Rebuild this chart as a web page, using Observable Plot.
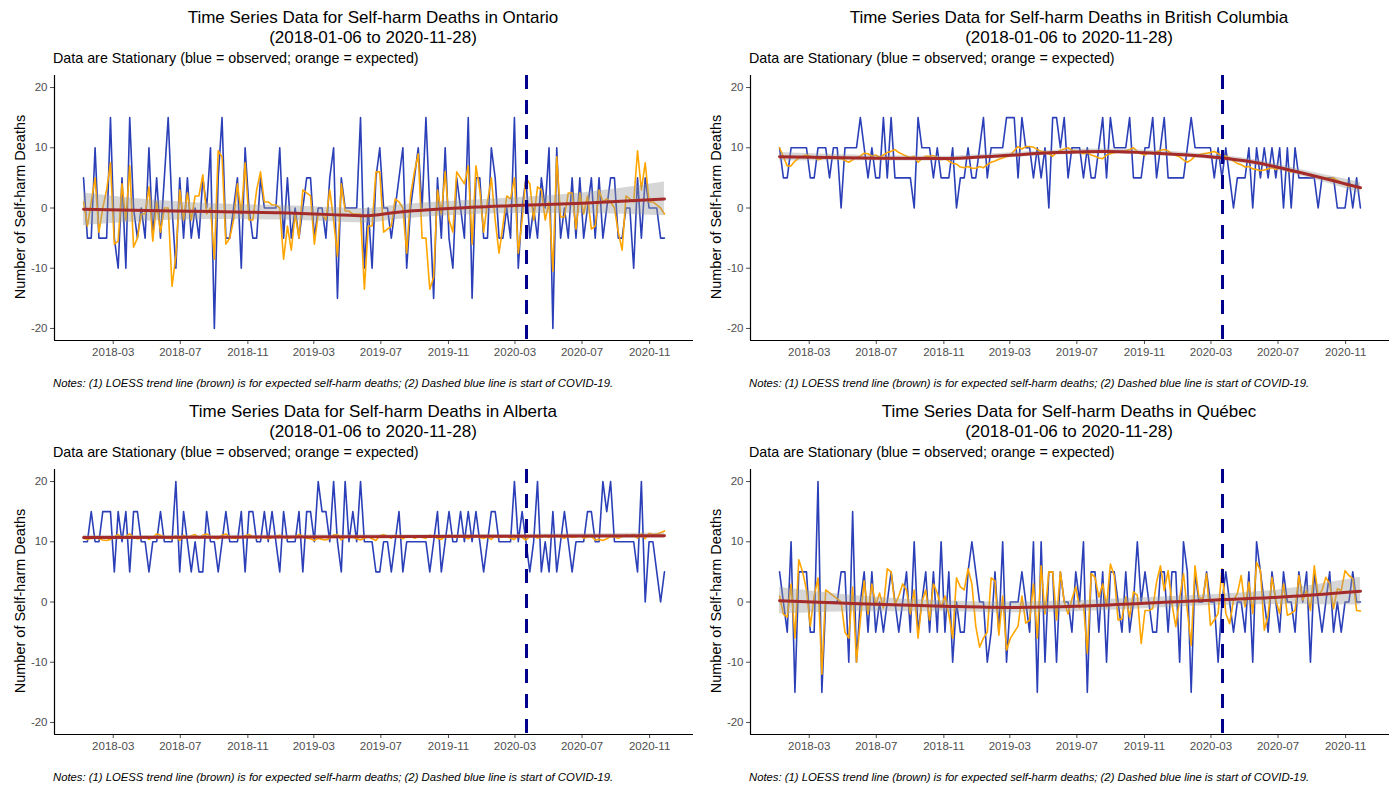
<!DOCTYPE html>
<html><head><meta charset="utf-8">
<script src="https://cdn.jsdelivr.net/npm/d3@7"></script>
<script src="https://cdn.jsdelivr.net/npm/@observablehq/plot@0.6"></script>
<style>
body{margin:0;background:#fff;font-family:"Liberation Sans",Arial,sans-serif;color:#000;}
#root{position:relative;width:1397px;height:786px;overflow:hidden;background:#fff;}
.panel{position:absolute;width:698px;height:393px;}
.title{position:absolute;top:8px;width:560px;text-align:center;font-size:17px;line-height:20px;}
.subtitle{position:absolute;left:53px;top:50px;font-size:14.3px;line-height:17px;white-space:nowrap;}
.ylab{position:absolute;left:20px;top:207px;transform:translate(-50%,-50%) rotate(-90deg);font-size:14.5px;white-space:nowrap;}
.note{position:absolute;left:53px;top:377px;font-size:11.3px;font-style:italic;white-space:nowrap;}
.chart{position:absolute;left:0;top:65px;}
</style></head>
<body><div id="root"></div>
<script>
const startDate = "2018-01-06";
const endDate = "2020-11-28";
const covidStart = "2020-03-22";
const xTickLabels = ["2018-03","2018-07","2018-11","2019-03","2019-07","2019-11","2020-03","2020-07","2020-11"];
const yTickValues = [-20,-10,0,10,20];
const subtitleText = "Data are Stationary (blue = observed; orange = expected)";
const noteText = "Notes: (1) LOESS trend line (brown) is for expected self-harm deaths; (2) Dashed blue line is start of COVID-19.";
const yLabel = "Number of Self-harm Deaths";

const ontarioObserved = [5,-5,-5,10,-5,-5,-5,15,-5,-10, 5,-10,15,0,-5,0,-5,10,-5,5, -5,5,15,0,-10,5,-5,5,-5,0, -5,5,0,10,-20,5,15,-5,-5,0, 5,-10,10,0,-5,-5,5,0,0,0, 0,10,-5,5,-5,0,-5,0,5,5, -5,0,0,-5,5,10,-15,5,0,0, 0,0,15,-10,
 0,-10,5,10,0,0,-5,0,5,10, -10,0,5,10,0,15,0,-15,5,-5, 10,-5,-10,5,0,-5,15,-15,5,5, -5,-5,10,5,-5,-5,0,-5,15,-10, 0,5,-5,0,-5,5,0,10,-20,10, -5,0,-5,5,-5,5,-5,0,5,-5, 5,-5,0,5,5,-5,-5,0,0,-10, 5,-5,5,0,0,0,-5,-5];
const ontarioExpected = [1,-3,1,5,-4,0,3,7.5,-6,-5.5, 4,-2,7,-6.5,-5,-1,-1,3.5,-5.5,1, -4,0,0,-13,-8,3,-2,2.5,-2,2, 2,5.5,-1,0,-8.5,9.5,8.5,-6,-5,-2, 4,-1,7.5,-2,-2,3,6,1,1,0.5, 0.5,0,-8.5,-3,-7,-1,-5,3,2.5,2, -6,-1,-1,-2,3,-2,-8,4,-0.5,-0.5, -1,-1,-1,-13.5,
 -3,-3,6,6,-4,-3.5,-3,1.5,1,0, -7.5,2,6,9,-5,-5,-13.5,-11.5,3,-1, 6,-2,-4,6,5,4,7,-6,7,3, -4,1,5,-2,-7.5,-3,2,1.5,5,-7.5, -2,5,4,-2,3.5,3,-2,1,-10.5,8.5, -1.5,-1.5,2.5,2.5,-3.5,2.5,-1,2,-3.5,-3, 3,1,1.5,1,0,-4,-7,2,1.5,1, 9.5,3,7.5,1,1,0.5,0,-1];
const ontarioTrendDates = ["2018-01-06","2018-05-01","2018-09-01","2019-01-01","2019-04-01","2019-06-01","2019-08-01","2019-11-01","2020-03-01","2020-07-01","2020-11-28"];
const ontarioTrend = [-0.2,-0.4,-0.6,-0.8,-1.1,-1.3,-0.7,-0.1,0.4,0.8,1.5];
const ontarioBand = [2.7,1.8,1.3,1.2,1.2,1.2,1.2,1.2,1.3,1.7,2.8];

const bcObserved = [10,5,5,10,10,10,10,10,5,5, 10,10,10,5,10,10,0,10,10,10, 10,15,10,5,10,5,5,15,5,15, 5,5,5,5,5,0,15,10,10,10, 5,10,5,5,5,10,0,5,5,10, 5,5,10,15,5,10,10,10,10,15, 15,15,5,15,10,10,5,10,5,10, 0,15,15,10,15,5,
 10,10,10,5,10,5,5,10,15,5, 15,10,10,10,10,15,5,5,5,10, 10,15,5,10,15,5,5,5,5,5, 10,15,10,10,10,10,10,5,10,5, 10,5,0,5,5,5,10,0,10,5, 10,5,10,5,10,0,10,0,10,5, 5,5,5,5,0,5,5,5,5,0, 0,0,5,0,5,0];
const bcExpected = [10,8.5,7,7,7.8,8.3,8.6,8.8,8.6,8.5, 8.0,8.2,8.5,8.6,8.4,8.2,8.2,7.9,7.6,8.0, 8.4,8.6,9.1,9.0,8.6,8.8,8.4,8.8,9.2,9.4, 9.7,9.2,8.9,8.6,8.4,8.6,7.6,8.2,8.6,8.6, 8.7,8.4,8.0,8.2,7.8,7.4,7.3,6.8,6.7,6.9, 6.6,6.6,6.9,6.7,7.2,7.6,7.8,8.1,8.3,8.5, 8.8,9.5,10.2,9.8,10.2,10.2,10.1,9.7,9.4,9.3, 9.0,8.6,9.2,9.6,9.8,10.0,
 9.6,9.4,9.2,9.0,9.2,8.8,8.6,8.3,8.2,8.8, 9.0,9.2,9.3,9.4,9.5,9.7,10.0,9.4,9.0,8.8, 9.2,9.0,9.3,9.6,9.7,9.5,9.0,8.7,8.5,8.0, 7.6,8.0,8.6,8.8,9.0,9.1,9.2,9.4,9.0,8.7, 8.6,8.3,7.8,7.4,7.2,6.8,6.9,6.5,6.4,6.2, 6.3,6.5,6.7,6.4,6.6,6.6,6.2,6.0,6.1,5.8, 5.9,5.7,5.6,5.4,5.2,5.1,5.0,4.9,5.0,4.6, 4.3,3.9,3.6,3.7,3.4,3.3];
const bcTrendDates = ["2018-01-06","2018-06-01","2018-11-01","2019-02-01","2019-05-25","2019-08-24","2019-11-23","2020-02-01","2020-05-23","2020-07-18","2020-09-19","2020-11-28"];
const bcTrend = [8.5,8.3,8.2,8.6,9.2,9.4,9.1,8.7,7.5,6.4,5.0,3.35];
const bcBand = [0.7,0.45,0.4,0.4,0.4,0.4,0.4,0.4,0.45,0.5,0.6,0.9];

const albertaObserved = [10,10,15,10,10,15,15,15,5,15, 10,15,5,15,15,10,10,5,10,10, 15,10,10,10,20,5,15,10,5,10, 5,5,15,10,10,5,10,15,10,10, 10,15,5,15,15,10,10,15,10,15, 10,5,15,10,10,10,15,5,15,15, 10,20,15,15,10,20,10,5,20,10, 15,10,20,10,10,
 10,5,5,10,10,5,10,15,5,10, 10,10,10,10,10,5,10,15,5,10, 15,10,10,15,10,15,10,15,10,5, 10,15,15,10,10,10,10,20,10,15, 10,5,10,20,5,10,5,15,5,10, 15,10,5,10,10,10,15,15,10,10, 20,15,20,10,10,10,10,10,10,5, 20,0,10,10,5,0,5];
const albertaExpected = [10.6,10.4,10.6,10.9,10.5,10.3,10.2,10.4,10.8,11.2, 10.6,10.9,11.3,10.7,10.5,10.6,10.9,10.4,10.7,11.3, 11.1,10.8,10.6,10.5,11.0,10.2,11.1,10.7,11.0,11.2, 10.6,11.1,11.3,10.9,10.6,10.5,11.1,11.3,10.8,10.6, 10.6,10.7,11.0,11.2,10.8,10.6,10.9,10.8,10.5,10.7, 10.9,11.1,10.8,10.6,10.7,10.8,11.2,10.9,10.6,10.5, 10.2,10.6,10.4,10.3,10.6,11.1,11.2,10.3,10.8,10.9, 10.8,10.5,10.3,10.6,10.9,10.5,10.2,11.0,11.2,10.9,
 10.6,11.1,10.8,10.5,10.9,11.0,10.6,10.8,10.7,10.6, 11.1,10.9,10.6,10.4,10.9,11.1,10.8,10.7,11.0,10.8, 10.5,10.9,11.0,10.7,10.6,10.8,10.4,11.0,10.7,10.8, 10.9,10.6,10.4,11.1,10.7,10.3,10.9,11.0,10.6,10.8, 11.1,10.7,10.9,11.0,10.8,10.6,10.9,10.7,10.8,11.0, 10.6,10.8,10.9,10.3,10.4,10.2,10.5,10.9,10.8,10.6, 10.9,11.1,11.0,11.2,10.6,11.3,10.5,11.4,11.2,11.3, 11.5,11.8];
const albertaTrendDates = ["2018-01-06","2018-09-01","2019-06-01","2020-01-01","2020-11-28"];
const albertaTrend = [10.7,10.75,10.85,10.9,11.0];
const albertaBand = [0.4,0.3,0.3,0.3,0.45];

const quebecObserved = [5,0,-5,10,-15,5,5,5,-5,-5, 20,-15,0,0,0,0,5,5,-10,15, -10,0,5,-5,5,-5,0,-5,0,5, 0,-5,0,5,-5,10,-5,0,5,-5, 5,-5,10,-5,5,-10,0,-5,-5,5, 10,5,0,0,-10,-5,5,-5,10,-10, 0,0,0,5,0,-5,10,-15,10,-10, 5,5,-10,5,0,0,
 -5,5,0,10,-15,5,5,-5,5,-10, 5,5,0,-5,5,-5,0,10,0,5, 0,-5,-5,5,5,-5,5,5,-10,10, 5,-15,5,0,0,5,0,0,-10,0, 5,0,-5,0,0,-5,5,-10,10,5, 0,-5,5,0,-5,5,0,0,-5,5, 0,5,-10,5,0,-5,0,5,-5,0, -5,0,0,5,0,0];
const quebecExpected = [1,-2,-2.5,3,-6,7,5,2,-4,1, 4,-12,2,1.5,1,0.5,0,-5,-6,2.5, -10,-3,3.5,-2,3,-0.5,1.5,-1,5.5,5, -0.5,1,3,2,-2,2,-6,0,2,-3, 3,1.5,-1,1,-2,-6,4,2.5,2,5.5, 3,-4,-7.5,-6,-5,4,3.5,-5.5,1,-8, -6,-5,-4,1,-3.5,-3,3,-6,6,-2, 5,5,-3,5,0,-2,
 0.5,2.5,-1,-0.3,-8.5,4.7,4.1,0.8,3,-0.8, 6.3,4.4,-3,-2.8,0.8,-2.5,1.7,1.1,-6.9,-1.4, -1.4,-1.1,3.3,6,1.9,5.2,-0.3,-4.1,0.6,4.7, -1.4,-7.2,6,0.8,0.5,4.7,-3.9,-3,-1.9,5.5, -1.9,-3.6,0.3,1.4,4.4,-0.8,3.3,-1.9,6.6,5.2, -4.7,-2.2,4.1,0.3,-1.9,3,-2.2,-1.9,-1.4,4.4, 0.3,1.9,-1.4,6,1.1,1.9,4.1,3,-1.1,2.2, 1.9,5.2,4.4,3.9,-1.4,-1.5];
const quebecTrendDates = ["2018-01-06","2018-06-01","2018-11-01","2019-03-01","2019-07-01","2019-11-01","2020-03-01","2020-07-01","2020-11-28"];
const quebecTrend = [0.2,-0.3,-0.7,-0.9,-0.7,-0.2,0.3,0.8,1.8];
const quebecBand = [2.2,1.3,0.9,0.9,0.9,0.9,0.9,1.2,2.3];

const panels = [
  {name:"Ontario", obs:ontarioObserved, exp:ontarioExpected, tDates:ontarioTrendDates, trend:ontarioTrend, band:ontarioBand, ox:0, oy:0},
  {name:"British Columbia", obs:bcObserved, exp:bcExpected, tDates:bcTrendDates, trend:bcTrend, band:bcBand, ox:696, oy:0},
  {name:"Alberta", obs:albertaObserved, exp:albertaExpected, tDates:albertaTrendDates, trend:albertaTrend, band:albertaBand, ox:0, oy:394},
  {name:"Québec", obs:quebecObserved, exp:quebecExpected, tDates:quebecTrendDates, trend:quebecTrend, band:quebecBand, ox:696, oy:394}
];

const COL_OBS = "#2b40b8", COL_EXP = "#ffa500", COL_TREND = "#a52a2a", COL_COVID = "#00008b";
const s0 = new Date(startDate), s1 = new Date(endDate);
const span = s1 - s0;
const xDomain = [new Date(+s0 - 0.05*span), new Date(+s1 + 0.05*span)];
const xTicks = xTickLabels.map(l => new Date(l + "-01"));
const root = document.getElementById("root");

for (const p of panels) {
  const div = document.createElement("div");
  div.className = "panel";
  div.style.left = p.ox + "px";
  div.style.top = p.oy + "px";
  const t = document.createElement("div");
  t.className = "title";
  t.style.left = (373 - 280) + "px";
  t.innerHTML = `Time Series Data for Self-harm Deaths in ${p.name}<br>(${startDate} to ${endDate})`;
  div.appendChild(t);
  const st = document.createElement("div"); st.className = "subtitle"; st.textContent = subtitleText; div.appendChild(st);
  const yl = document.createElement("div"); yl.className = "ylab"; yl.textContent = yLabel; div.appendChild(yl);
  const nt = document.createElement("div"); nt.className = "note"; nt.textContent = noteText; div.appendChild(nt);

  const data = p.obs.map((v, i) => ({date: d3.utcDay.offset(s0, 7*i), obs: v, exp: p.exp[i]}));
  const trend = p.tDates.map((d, i) => ({date: new Date(d), fit: p.trend[i], lo: p.trend[i] - p.band[i], hi: p.trend[i] + p.band[i]}));

  const chart = Plot.plot({
    width: 698, height: 300,
    marginLeft: 54, marginRight: 5, marginTop: 10, marginBottom: 25,
    style: {fontFamily: "Liberation Sans, Arial, sans-serif", fontSize: "11.5px", color: "#4d4d4d", background: "transparent", overflow: "visible"},
    x: {type: "utc", domain: xDomain, ticks: xTicks, tickFormat: d3.utcFormat("%Y-%m"), tickSize: 4, tickPadding: 3, label: null},
    y: {domain: [-22, 22], ticks: yTickValues, tickFormat: d => String(d), tickSize: 4, tickPadding: 3, label: null},
    marks: [
      Plot.lineY(data, {x: "date", y: "obs", stroke: COL_OBS, strokeWidth: 1.6}),
      Plot.lineY(data, {x: "date", y: "exp", stroke: COL_EXP, strokeWidth: 1.6}),
      Plot.areaY(trend, {x: "date", y1: "lo", y2: "hi", fill: "#999999", fillOpacity: 0.4, curve: "monotone-x"}),
      Plot.lineY(trend, {x: "date", y: "fit", stroke: COL_TREND, strokeWidth: 3, curve: "monotone-x"}),
      Plot.ruleX([new Date(covidStart)], {stroke: COL_COVID, strokeWidth: 3, strokeDasharray: "14,11"}),
      Plot.ruleX([xDomain[0]], {stroke: "#000", strokeWidth: 1.2}),
      Plot.ruleY([-22], {stroke: "#000", strokeWidth: 1.2})
    ]
  });
  chart.classList.add("chart");
  div.appendChild(chart);
  root.appendChild(div);
}
</script>
</body></html>
